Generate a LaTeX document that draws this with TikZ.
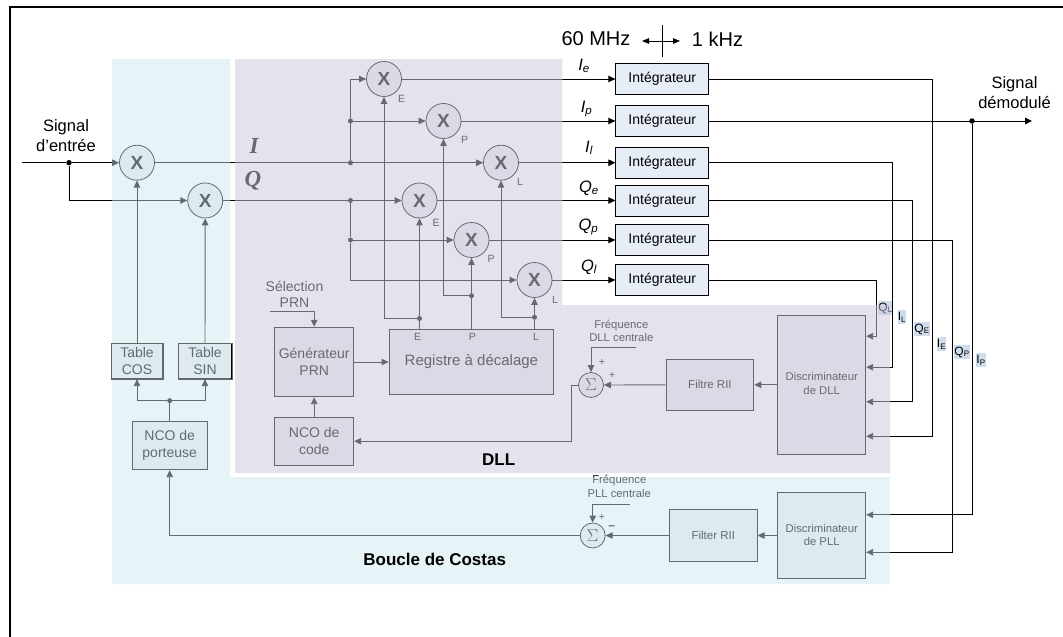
\documentclass[tikz,border=0pt]{standalone}
\usepackage{fontspec}
\setmainfont{Liberation Sans}
\newfontfamily\iqfont{Liberation Serif}
\usepackage{xcolor}
\usetikzlibrary{arrows.meta,calc,positioning}
\definecolor{boxfill}{HTML}{EEECF1}
\definecolor{intfill}{HTML}{E6EDF7}
\definecolor{tagfill}{HTML}{CFDCEE}
\definecolor{dllzone}{HTML}{CDC7DC}
\definecolor{pllzone}{HTML}{CCE8EE}
\newcommand{\sigl}[2]{\textit{#1\textsubscript{#2}}}
\newcommand{\tagl}[2]{#1\textsubscript{#2}}

\begin{document}
\begin{tikzpicture}[
    x=1pt, y=-1pt,
    every node/.style={inner sep=0pt, align=center},
    line/.style={line width=.9pt, black},
    arr/.style={line, -{Triangle[length=7pt, width=6.5pt]}},
    mult/.style={draw, circle, line width=.8pt, fill=boxfill, minimum size=35pt,
                 font=\fontsize{19}{19}\selectfont\bfseries},
    somme/.style={draw, circle, line width=.8pt, fill=boxfill, minimum size=25pt,
                  font=\fontsize{17}{17}\selectfont},
    bloc/.style={draw, line width=.9pt, fill=boxfill, font=\fontsize{14}{17}\selectfont},
    integ/.style={draw, line width=.9pt, fill=intfill, minimum width=93pt, minimum height=31pt,
                  font=\fontsize{14}{14}\selectfont},
    dot/.style={circle, fill=black, minimum size=5.5pt},
    ptxt/.style={font=\fontsize{10.5}{10.5}\selectfont},
    petit/.style={font=\fontsize{11.3}{13.5}\selectfont},
    sig/.style={font=\fontsize{16.5}{20}\selectfont},
    iq/.style={font=\fontsize{23}{23}\selectfont\iqfont\bfseries\itshape},
    tagbox/.style={fill=tagfill, minimum height=14pt, font=\fontsize{12}{12}\selectfont},
    zone/.style={font=\fontsize{17}{17}\selectfont\bfseries}]
  \useasboundingbox (0,0) rectangle (1063,637);
  \draw[line width=2pt] (10,637) -- (10,7) -- (1063,7);

  % entree et voies I, Q
  \node[sig] (entree) at (66,136) {Signal\\ d'entrée};
  \node[sig] (sortie) at (1014.5,92.5) {Signal\\ démodulé};
  \node[mult] (mI) at (137,162.7) {X};
  \node[mult] (mQ) at (205.2,200.5) {X};
  \node[dot] (dIn) at (69,162.7) {};
  \coordinate (start) at (22,162.7);
  \node[iq] (labI) at (254,146) {I};
  \node[iq] (labQ) at (253,181) {Q};

  % correlateurs
  \node[mult] (mIe) at (384,79) {X};
  \node[mult] (mIp) at (443.5,121) {X};
  \node[mult] (mIl) at (501,162.7) {X};
  \node[mult] (mQe) at (419.5,200.5) {X};
  \node[mult] (mQp) at (471.5,240) {X};
  \node[mult] (mQl) at (534.5,280) {X};
  \node[ptxt] (tIe) at (401.5,99) {E};
  \node[ptxt] (tIp) at (464.5,140) {P};
  \node[ptxt] (tIl) at (520,182) {L};
  \node[ptxt] (tQe) at (436,223) {E};
  \node[ptxt] (tQp) at (491,259) {P};
  \node[ptxt] (tQl) at (555,300) {L};
  \node[dot, minimum size=5pt] (dI) at (350.5,162.7) {};
  \node[dot, minimum size=5pt] (dIp) at (350.5,121) {};
  \node[dot, minimum size=5pt] (dQ) at (350.5,200.5) {};
  \node[dot, minimum size=5pt] (dQp) at (350.5,240) {};

  % integrateurs
  \node[integ] (iIe) at (662.3,79) {Intégrateur};
  \node[integ] (iIp) at (iIe |- mIp) {Intégrateur};
  \node[integ] (iIl) at (iIe |- mIl) {Intégrateur};
  \node[integ] (iQe) at (iIe |- mQe) {Intégrateur};
  \node[integ] (iQp) at (iIe |- mQp) {Intégrateur};
  \node[integ] (iQl) at (iIe |- mQl) {Intégrateur};
  \node[sig] (lIe) at (584,66) {\sigl{I}{e}};
  \node[sig] (lIp) at (586.5,109) {\sigl{I}{p}};
  \node[sig] (lIl) at (589,148) {\sigl{I}{l}};
  \node[sig] (lQe) at (589,188) {\sigl{Q}{e}};
  \node[sig] (lQp) at (588.5,227) {\sigl{Q}{p}};
  \node[sig] (lQl) at (589,267) {\sigl{Q}{l}};

  % horloges
  \node[font=\fontsize{20}{20}\selectfont] (mhz) at (596,39) {60 MHz};
  \node[font=\fontsize{20}{20}\selectfont] (khz) at (717.5,39) {1 kHz};
  \coordinate (h1) at (642,41);
  \coordinate (h2) at (680,41);
  \coordinate (v1) at (662.5,24.5);
  \coordinate (v2) at (662.5,57);

  % generation de code
  \node (selprn) at (294.5,294) [font=\fontsize{14}{16}\selectfont] {Sélection\\ PRN};
  \coordinate (selin) at (270,311.7);
  \node[bloc, minimum width=79pt, minimum height=69.4pt] (gen) at (314.2,362) {Générateur\\ PRN};
  \node[bloc, minimum width=79pt, minimum height=48.3pt] (ncoc) at (314.2,441.2) {NCO de\\ code};
  \node[bloc, minimum width=164.7pt, minimum height=65.7pt, font=\fontsize{15}{15}\selectfont]
     (reg) at (471.4,361.8) {Registre à décalage};
  \node[ptxt] (rE) at (417.7,337.3) {E};
  \node[ptxt] (rP) at (472.3,337) {P};
  \node[ptxt] (rL) at (536,337.3) {L};
  \node[dot, minimum size=5pt] (dE) at (419.5,318.5) {};
  \node[dot, minimum size=5pt] (dP) at (471.5,295.7) {};
  \node[dot, minimum size=5pt] (dL) at (534.5,317.3) {};

  % boucle DLL
  \node[bloc, minimum width=88pt, minimum height=138.3pt] (discD) at (821.7,384.8) {};
  \node[petit] at (821.7,383.7) (discDt) {Discriminateur\\ de DLL};
  \node[bloc, minimum width=87.7pt, minimum height=51.7pt, font=\fontsize{11.5}{12}\selectfont,
        left=23pt of discD] (fD) {Filtre RII};
  \node[somme] (sD) at (591,385) {$\Sigma$};
  \node[petit] (fDt) at (621.3,331) {Fréquence\\ DLL centrale};
  \coordinate (fDin) at (636,347.7);
  \node[ptxt] (pD1) at (602,362.7) {+};
  \node[ptxt] (pD2) at (612.3,375.7) {+};
  \coordinate (bD) at (571.3,385);

  % boucle de Costas
  \node[bloc, minimum width=88pt, minimum height=86.4pt] (discP) at (821.7,535.5) {};
  \node[petit] at (821.7,535) (discPt) {Discriminateur\\ de PLL};
  \node[bloc, minimum width=87.7pt, minimum height=52pt, font=\fontsize{11.5}{12}\selectfont,
        left=19.7pt of discP] (fP) {Filter RII};
  \node[somme] (sP) at (592.7,535.5) {$\Sigma$};
  \node[petit] (fPt) at (619.3,486.3) {Fréquence\\ PLL centrale};
  \coordinate (fPin) at (630,504.3);
  \node[ptxt] (pP1) at (602,517.7) {+};
  \node[ptxt, font=\fontsize{12}{12}\selectfont\bfseries] (pP2) at (611.7,528) {--};

  % porteuse
  \node[bloc, minimum width=74.7pt, minimum height=48.4pt] (ncop) at (169.7,445.5) {NCO de\\ porteuse};
  \node[bloc, minimum width=51.4pt, minimum height=35pt] (tcos) at (137,361.2) {Table\\ COS};
  \node[bloc, minimum width=53.4pt, minimum height=35pt] (tsin) at (205,361.2) {Table\\ SIN};
  \node[dot, minimum size=5pt] (dNco) at (169.7,400.7) {};

  % sorties vers les discriminateurs
  \node[dot] (dOut) at (972,121) {};
  \coordinate (out) at (1032,121);
  \coordinate (colQl) at (876,0);
  \coordinate (colIl) at (892.3,0);
  \coordinate (colQe) at (912.3,0);
  \coordinate (colIe) at (932.3,0);
  \coordinate (colQp) at (952.3,0);
  \coordinate (inQl) at ($(discD.north east)+(0,21)$);
  \coordinate (inIl) at ($(discD.north east)+(0,52)$);
  \coordinate (inQe) at ($(discD.north east)+(0,86.6)$);
  \coordinate (inIe) at ($(discD.north east)+(0,121)$);
  \coordinate (inIp) at ($(discP.north east)+(0,23)$);
  \coordinate (inQp) at ($(discP.north east)+(0,60.4)$);
  \node[tagbox, minimum width=13pt] (qL) at (885.5,308) {\tagl{Q}{L}};
  \node[tagbox, minimum width=8pt] (iL) at (902,317) {\tagl{I}{L}};
  \node[tagbox, minimum width=14pt] (qE) at (922,329) {\tagl{Q}{E}};
  \node[tagbox, minimum width=8pt] (iE) at (941.5,344) {\tagl{I}{E}};
  \node[tagbox, minimum width=14pt] (qP) at (962,352) {\tagl{Q}{P}};
  \node[tagbox, minimum width=8pt] (iP) at (981,360) {\tagl{I}{P}};

  \draw[line] (start) -- (dIn);
  \draw[arr] (dIn) -- (mI);
  \draw[arr] (dIn) |- (mQ);
  \draw[arr] (mI) -- (mIl);
  \draw[arr] (mQ) -- (mQe);
  \draw[arr] (dI) |- (mIe);
  \draw[arr] (dIp) -- (mIp);
  \draw[line] (dQ) -- (dQp);
  \draw[arr] (dQp) -- (mQp);
  \draw[arr] (dQp) |- (mQl);
  \draw[arr] (mIe) -- (iIe);
  \draw[arr] (mIp) -- (iIp);
  \draw[arr] (mIl) -- (iIl);
  \draw[arr] (mQe) -- (iQe);
  \draw[arr] (mQp) -- (iQp);
  \draw[arr] (mQl) -- (iQl);
  \draw[arr, {Triangle[length=7pt, width=5.5pt]}-{Triangle[length=7pt, width=5.5pt]}] (h1) -- (h2);
  \draw[line] (v1) -- (v2);

  \draw[arr] (selin) -| (gen.north);
  \draw[arr] (ncoc) -- (gen);
  \draw[arr] (gen) -- (gen -| reg.west);
  \draw[line] (reg.north -| dE) -- (dE);
  \draw[arr] (dE) -- (mQe);
  \draw[arr] (dE) -| (mIe);
  \draw[arr] (reg.north -| dP) -- (mQp);
  \draw[arr] (dP) -| (mIp);
  \draw[line] (reg.north -| dL) -- (dL);
  \draw[arr] (dL) -- (mQl);
  \draw[arr] (dL) -| (mIl);

  \draw[arr] (discD) -- (fD);
  \draw[arr] (fD) -- (sD);
  \draw[arr] (fDin) -| (sD.north);
  \draw[arr] (sD) -- (bD) |- (ncoc);
  \draw[arr] (discP) -- (fP);
  \draw[arr] (fP) -- (sP);
  \draw[arr] (fPin) -| (sP.north);
  \draw[arr] (sP) -| (ncop);
  \draw[line] (ncop) -- (dNco);
  \draw[arr] (dNco) -| (tcos);
  \draw[arr] (dNco) -| (tsin);
  \draw[arr] (tcos) -- (mI);
  \draw[arr] (tsin) -- (mQ);

  \draw[arr] (iIe) -- (iIe -| colIe) |- (inIe);
  \draw[arr] (iIp) -- (out);
  \draw[arr] (iIl) -- (iIl -| colIl) |- (inIl);
  \draw[arr] (iQe) -- (iQe -| colQe) |- (inQe);
  \draw[arr] (iQp) -- (iQp -| colQp) |- (inQp);
  \draw[arr] (iQl) -- (iQl -| colQl) |- (inQl);
  \draw[arr] (dOut) |- (inIp);

  % calques translucides
  \fill[dllzone, fill opacity=.52] (235,59) -- (562.3,59) -- (562.3,305) -- (890,305)
     -- (890,473) -- (235,473) -- cycle;
  \fill[pllzone, fill opacity=.47] (112,59) -- (230,59) -- (230,477) -- (890,477)
     -- (890,584) -- (112,584) -- cycle;
  \draw[black!60, line width=.7pt] (tcos.south west) rectangle (tcos.north east);
  \draw[black!60, line width=.7pt] (tsin.south west) rectangle (tsin.north east);
  \node[zone] (dll) at (498.7,459.3) {DLL};
  \node[zone] (costas) at (434.7,559.7) {Boucle de Costas};
\end{tikzpicture}
\end{document}
